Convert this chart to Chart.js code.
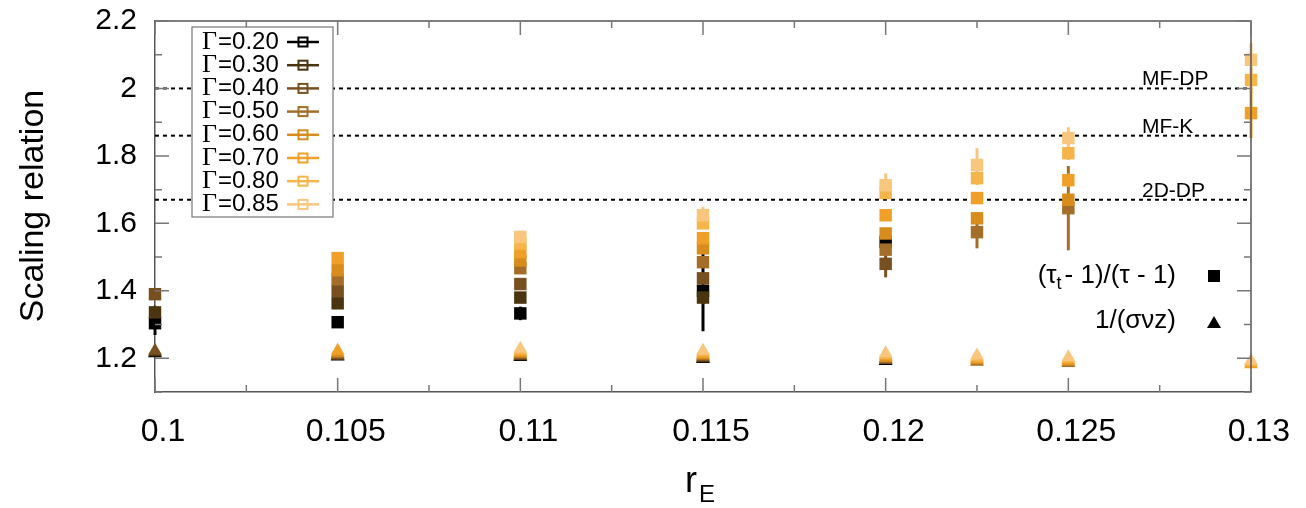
<!DOCTYPE html>
<html lang="en">
<head>
<meta charset="UTF-8">
<title>Scaling relation vs r_E</title>
<style>
  body { margin: 0; background: #fff; }
  canvas { display: block; }
</style>
<script src="https://cdn.jsdelivr.net/npm/chart.js@4"></script>
</head>
<body>
<canvas id="chart" width="1306" height="508"></canvas>
<script>
// x positions (r_E) shared by every series
const rE = [0.1, 0.105, 0.11, 0.115, 0.12, 0.1225, 0.125, 0.13];

const gammaNames = ['0.20', '0.30', '0.40', '0.50', '0.60', '0.70', '0.80', '0.85'];
const gammaColors = ['#000000', '#4b3410', '#785020', '#a46e28', '#d88c1c', '#f0a028', '#f6b54a', '#f9c67e'];

// (tau_t - 1)/(tau - 1)  -- null = no point at that r_E
const ratio020 = [1.304, 1.307, 1.333, 1.400, 1.545, null, null, null];
const ratio030 = [1.336, 1.363, 1.380, 1.380, null, null, null, null];
const ratio040 = [1.390, 1.400, 1.420, 1.437, 1.480, null, null, null];
const ratio050 = [null, 1.434, 1.467, 1.485, 1.522, 1.574, 1.645, null];
const ratio060 = [null, 1.461, 1.490, 1.526, 1.570, 1.615, 1.670, null];
const ratio070 = [null, 1.497, 1.515, 1.556, 1.624, 1.675, 1.728, 1.927];
const ratio080 = [null, null, 1.540, 1.600, 1.690, 1.734, 1.808, 2.025];
const ratio085 = [null, null, 1.560, 1.624, 1.713, 1.773, 1.853, 2.085];

// error bars of the ratio (half length)
const err020 = [0.035, 0.012, 0.02, 0.12, 0.02, 0, 0, 0];
const err030 = [0.02, 0.01, 0.01, 0.02, 0, 0, 0, 0];
const err040 = [0.01, 0.01, 0.01, 0.01, 0.04, 0, 0, 0];
const err050 = [0, 0.01, 0.01, 0.01, 0.01, 0.048, 0.125, 0];
const err060 = [0, 0.01, 0.01, 0.01, 0.01, 0.01, 0.02, 0];
const err070 = [0, 0.01, 0.01, 0.01, 0.01, 0.01, 0.02, 0.074];
const err080 = [0, 0, 0.01, 0.01, 0.01, 0.02, 0.02, 0.04];
const err085 = [0, 0, 0.01, 0.025, 0.035, 0.05, 0.032, 0.05];

// 1/(sigma nu z)
const inv020 = [1.215, 1.205, 1.204, 1.198, 1.192, null, null, null];
const inv030 = [1.218, 1.207, 1.206, 1.200, null, null, null, null];
const inv040 = [1.222, 1.209, 1.208, 1.203, 1.195, null, null, null];
const inv050 = [null, 1.212, 1.211, 1.206, 1.198, 1.190, 1.186, null];
const inv060 = [null, 1.216, 1.214, 1.209, 1.201, 1.194, 1.190, null];
const inv070 = [null, 1.222, 1.218, 1.213, 1.205, 1.198, 1.194, 1.182];
const inv080 = [null, null, 1.223, 1.218, 1.210, 1.203, 1.199, 1.188];
const inv085 = [null, null, 1.228, 1.222, 1.215, 1.208, 1.203, 1.193];

const ratioSeries = [ratio020, ratio030, ratio040, ratio050, ratio060, ratio070, ratio080, ratio085];
const errSeries = [err020, err030, err040, err050, err060, err070, err080, err085];
const invSeries = [inv020, inv030, inv040, inv050, inv060, inv070, inv080, inv085];

// dotted reference values
const refValues = [2.0, 1.86, 1.67];
const refLabels = ['MF-DP', 'MF-K', '2D-DP'];

const yTickValues = [1.2, 1.4, 1.6, 1.8, 2.0, 2.2];
const xTickValues = [0.1, 0.105, 0.11, 0.115, 0.12, 0.125, 0.13];

const SANS = '"Liberation Sans", Arial, sans-serif';
const SERIF = '"Liberation Serif", "Times New Roman", serif';

function points(vals, errs) {
  const out = [];
  vals.forEach((v, i) => {
    if (v !== null) out.push({ x: rE[i], y: v, e: errs ? errs[i] : 0 });
  });
  return out;
}

const datasets = [];
gammaNames.forEach((g, i) => {
  datasets.push({
    label: 'Γ=' + g,
    data: points(ratioSeries[i], errSeries[i]),
    pointStyle: 'rect', pointRadius: 8.8, pointHoverRadius: 8.8,
    backgroundColor: gammaColors[i], borderWidth: 0,
    order: 7 - i, clip: false
  });
});
gammaNames.forEach((g, i) => {
  datasets.push({
    label: 'Γ=' + g + ' 1/(σνz)',
    data: points(invSeries[i]),
    pointStyle: 'triangle', pointRadius: 8, pointHoverRadius: 8,
    backgroundColor: gammaColors[i], borderWidth: 0,
    order: 7 - i, clip: false
  });
});

// reference lines, error bars, inward ticks, legend, labels
const decor = {
  id: 'decor',
  beforeDatasetsDraw(chart) {
    const { ctx, chartArea: a, scales: { x, y } } = chart;
    ctx.save();
    ctx.strokeStyle = '#000';
    ctx.lineWidth = 2;
    ctx.setLineDash([4, 4]);
    refValues.forEach(v => {
      const py = y.getPixelForValue(v);
      ctx.beginPath(); ctx.moveTo(a.left, py); ctx.lineTo(a.right, py); ctx.stroke();
    });
    ctx.setLineDash([]);
    ctx.fillStyle = '#000';
    ctx.font = '21px ' + SANS;
    ctx.textAlign = 'left';
    ctx.textBaseline = 'alphabetic';
    refLabels.forEach((t, i) => ctx.fillText(t, 1142, y.getPixelForValue(refValues[i]) - 3));

    // error bars
    ctx.lineWidth = 3;
    chart.data.datasets.forEach((ds, di) => {
      const meta = chart.getDatasetMeta(di);
      ds.data.forEach((p, i) => {
        if (!p.e) return;
        const px = meta.data[i].x;
        ctx.strokeStyle = ds.backgroundColor;
        ctx.beginPath();
        ctx.moveTo(px, y.getPixelForValue(p.y - p.e));
        ctx.lineTo(px, y.getPixelForValue(p.y + p.e));
        ctx.stroke();
      });
    });
    ctx.restore();
  },
  afterDraw(chart) {
    const { ctx, chartArea: a, scales: { x, y } } = chart;
    ctx.save();
    // frame top/right
    ctx.strokeStyle = '#555';
    ctx.lineWidth = 1.5;
    ctx.beginPath();
    ctx.moveTo(a.left, a.top); ctx.lineTo(a.right, a.top); ctx.lineTo(a.right, a.bottom);
    ctx.stroke();
    // inward ticks
    ctx.strokeStyle = '#777';
    ctx.beginPath();
    for (let k = 0; k <= 11; k++) {
      const py = y.getPixelForValue(1.1 + k * 0.1);
      const len = k % 2 === 1 ? 14 : 7;
      ctx.moveTo(a.left, py); ctx.lineTo(a.left + len, py);
      ctx.moveTo(a.right, py); ctx.lineTo(a.right - len, py);
    }
    for (let k = 0; k <= 12; k++) {
      const px = x.getPixelForValue(0.1 + k * 0.0025);
      const len = k % 2 === 0 ? 14 : 7;
      ctx.moveTo(px, a.bottom); ctx.lineTo(px, a.bottom - len);
      ctx.moveTo(px, a.top); ctx.lineTo(px, a.top + len);
    }
    ctx.stroke();

    // legend box
    ctx.fillStyle = '#fff';
    ctx.fillRect(192, 27, 141, 190);
    ctx.strokeStyle = '#777';
    ctx.lineWidth = 1.2;
    ctx.strokeRect(192, 27, 141, 190);
    ctx.textBaseline = 'middle';
    ctx.textAlign = 'left';
    gammaNames.forEach((g, i) => {
      const ry = 42 + i * 23.2;
      ctx.fillStyle = '#000';
      ctx.font = '26px ' + SERIF;
      ctx.fillText('Γ', 202, ry);
      const gw = ctx.measureText('Γ').width;
      ctx.font = '24px ' + SANS;
      ctx.fillText('=' + g, 202 + gw + 1, ry);
      ctx.strokeStyle = gammaColors[i];
      ctx.lineWidth = 2.5;
      ctx.beginPath(); ctx.moveTo(287, ry); ctx.lineTo(319, ry); ctx.stroke();
      ctx.lineWidth = 2;
      ctx.strokeRect(298.5, ry - 4.5, 9, 9);
    });

    // symbol key on the right
    ctx.fillStyle = '#000';
    ctx.textAlign = 'right';
    ctx.textBaseline = 'alphabetic';
    ctx.font = '26px ' + SANS;
    const right = 1176;
    const part3 = '- 1)/(τ - 1)';
    const w3 = ctx.measureText(part3).width;
    ctx.fillText(part3, right, 283);
    ctx.font = '18px ' + SANS;
    const wt = ctx.measureText('t').width;
    ctx.fillText('t', right - w3 - 3, 289);
    ctx.font = '26px ' + SANS;
    ctx.fillText('(τ', right - w3 - 3 - wt, 283);
    ctx.fillRect(1208, 270, 12, 12);
    ctx.fillText('1/(σνz)', right, 328);
    ctx.beginPath();
    ctx.moveTo(1214, 316); ctx.lineTo(1221, 328); ctx.lineTo(1207, 328); ctx.closePath(); ctx.fill();

    // axis titles
    ctx.textAlign = 'center';
    ctx.font = '34px ' + SANS;
    ctx.save();
    ctx.translate(34, 206);
    ctx.rotate(-Math.PI / 2);
    ctx.textBaseline = 'middle';
    ctx.fillText('Scaling relation', 0, 0);
    ctx.restore();
    ctx.textAlign = 'left';
    ctx.font = '36px ' + SANS;
    ctx.fillText('r', 685, 492);
    ctx.font = '24px ' + SANS;
    ctx.fillText('E', 699, 502);
    ctx.restore();
  }
};

new Chart(document.getElementById('chart'), {
  type: 'scatter',
  data: { datasets },
  options: {
    responsive: false,
    animation: false,
    layout: { padding: { left: 0, top: 21, right: 55, bottom: 0 } },
    plugins: { legend: { display: false }, tooltip: { enabled: false } },
    scales: {
      x: {
        type: 'linear', min: 0.1, max: 0.13,
        afterFit: s => { s.height = 116; s.paddingLeft = 0; s.paddingRight = 0; },
        afterBuildTicks: s => { s.ticks = xTickValues.map(v => ({ value: v })); },
        grid: { display: false, drawTicks: false },
        border: { display: true, color: '#555', width: 1.5 },
        ticks: {
          padding: 21, labelOffset: 8, color: '#000', maxRotation: 0, autoSkip: false,
          font: { family: SANS, size: 32 },
          callback: v => String(Math.round(v * 10000) / 10000)
        }
      },
      y: {
        type: 'linear', min: 1.1, max: 2.2,
        afterFit: s => { s.width = 155; s.paddingTop = 0; s.paddingBottom = 0; },
        afterBuildTicks: s => { s.ticks = yTickValues.map(v => ({ value: v })); },
        grid: { display: false, drawTicks: false },
        border: { display: true, color: '#555', width: 1.5 },
        ticks: {
          padding: 18, color: '#000',
          font: { family: SANS, size: 30 },
          callback: v => String(Math.round(v * 10) / 10)
        }
      }
    }
  },
  plugins: [decor]
});
</script>
</body>
</html>
